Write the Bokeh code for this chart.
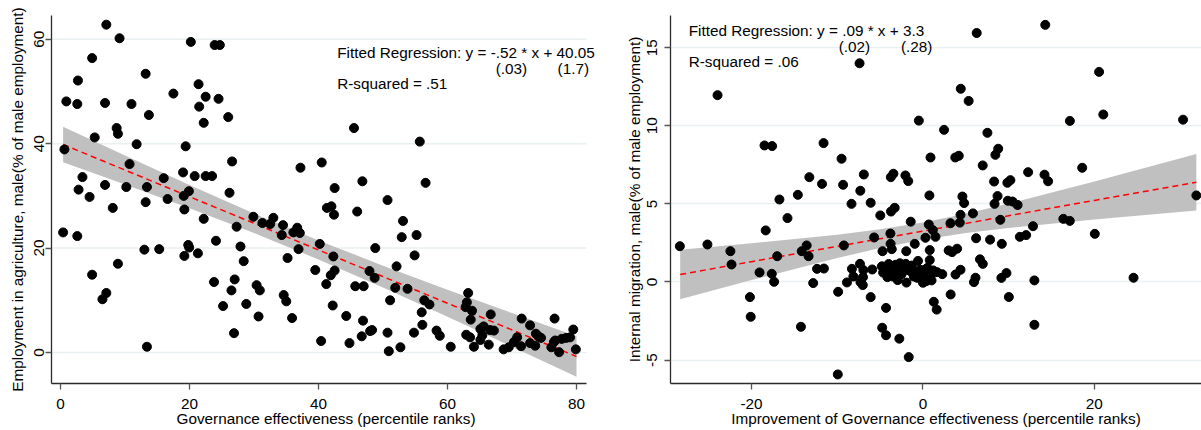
from bokeh.plotting import figure
from bokeh.layouts import row
from bokeh.models import FixedTicker, Label, Range1d
from bokeh.embed import file_html
from bokeh.resources import INLINE

FONT = "Liberation Sans"
FS = "15.3px"

# ---------------- Left panel data ----------------
gov_eff = [0.6, 0.9, 2.7, 2.6, 4.9, 7.1, 9.15, 6.9, 5.3, 8.7, 8.9, 13.2, 11.0, 13.7, 11.8, 10.7,
           3.4, 2.8, 4.5, 6.9, 10.2, 13.4, 16.0, 17.5, 20.2, 21.4, 22.5, 21.5, 22.2, 24.5, 23.9, 24.7,
           26.0, 19.4, 26.6, 19.0, 20.8, 22.5, 23.5, 19.9, 19.1, 26.2, 37.2, 40.5, 42.5, 16.6, 13.2,
           45.5, 55.7, 46.8, 56.6, 50.7, 0.4, 2.6, 8.1, 4.9, 6.5, 7.1, 8.9, 13.0, 15.3, 13.4, 19.2,
           19.8, 19.95, 21.3, 22.2, 24.1, 27.3, 27.9, 28.4, 29.9, 31.3, 32.5, 33.0, 34.5, 34.3, 36.1,
           36.7, 37.1, 36.9, 35.2, 40.2, 41.3, 42.0, 42.4, 42.3, 39.5, 41.2, 41.9, 42.5, 42.2, 40.4,
           23.8, 25.2, 26.5, 27.0, 26.9, 28.8, 30.4, 30.9, 30.7, 34.6, 35.0, 35.9, 19.2, 46.0, 53.1,
           52.9, 55.2, 54.9, 48.8, 47.9, 48.7, 45.7, 47.0, 44.3, 46.9, 46.7, 48.0, 48.3, 44.8, 52.1,
           51.9, 53.8, 51.1, 50.7, 50.9, 52.7, 54.8, 56.1, 56.4, 56.0, 57.2, 58.3, 58.8, 60.5, 63.2,
           63.0, 62.8, 63.8, 63.6, 66.7, 62.9, 63.5, 64.1, 65.1, 65.6, 65.4, 65.1, 66.6, 67.2, 66.4,
           68.7, 69.5, 70.3, 70.8, 71.4, 71.5, 72.8, 72.8, 73.6, 73.7, 74.1, 74.5, 76.6, 76.1, 76.5,
           76.7, 77.3, 77.7, 78.4, 79.0, 79.5, 79.9]
agri_emp = [38.9, 48.1, 52.1, 47.6, 56.4, 62.8, 60.2, 47.8, 41.2, 43.0, 41.9, 53.4, 47.6, 45.5, 39.9, 36.1,
            33.6, 31.2, 29.8, 32.1, 31.7, 31.7, 33.4, 49.6, 59.5, 51.4, 49.0, 47.1, 44.0, 48.6, 58.9, 58.9,
            45.1, 39.5, 36.6, 34.5, 33.8, 33.8, 33.8, 30.9, 30.0, 30.6, 35.4, 36.4, 31.5, 29.4, 28.8,
            43.0, 40.4, 32.8, 32.5, 29.2, 23.0, 22.3, 27.7, 14.9, 10.2, 11.4, 17.0, 19.7, 19.8, 1.1, 18.5,
            20.6, 20.1, 19.0, 25.6, 21.4, 24.1, 20.3, 17.5, 26.0, 24.8, 24.6, 25.8, 24.4, 22.5, 23.0,
            23.9, 22.9, 19.8, 18.1, 20.8, 27.7, 28.0, 26.4, 18.4, 15.8, 13.1, 14.8, 15.7, 9.0, 2.2,
            13.5, 8.9, 11.9, 14.0, 3.7, 9.3, 12.9, 11.9, 6.9, 11.0, 9.8, 6.6, 27.4, 27.0, 25.2,
            22.1, 22.5, 18.6, 20.0, 15.6, 14.3, 12.7, 12.7, 7.0, 6.1, 3.1, 4.1, 4.3, 1.8, 16.5,
            12.4, 12.2, 10.0, 3.8, 0.25, 1.0, 3.8, 5.3, 10.0, 7.7, 9.2, 4.2, 3.2, 1.1, 11.4,
            9.6, 8.7, 8.0, 6.3, 7.3, 3.4, 2.9, 1.1, 4.5, 5.0, 3.3, 2.4, 4.3, 4.2, 1.5,
            0.6, 1.0, 2.0, 2.9, 1.2, 6.5, 5.2, 1.8, 1.3, 3.6, 3.1, 2.8, 6.5, 1.0, 2.0,
            2.3, 0.06, 2.6, 2.8, 2.9, 4.4, 0.6]

left_fit_x = [0.4, 10, 20, 30, 40, 50, 60, 70, 80]
left_fit_y = [39.85, 34.95, 29.85, 24.75, 19.64, 14.54, 9.44, 4.33, -0.77]
left_ci_hi = [43.25, 37.74, 32.09, 26.63, 21.47, 16.64, 12.04, 7.55, 3.13]
left_ci_lo = [36.45, 32.16, 27.61, 22.87, 17.81, 12.44, 6.84, 1.11, -4.67]

left_xticks = [0, 20, 40, 60, 80]
left_yticks = [0, 20, 40, 60]
left_xlim = (-1.40, 81.55)   # extent of the drawn x axis
left_ylim = (-5.94, 64.56)

# ---------------- Right panel data ----------------
gov_improve = [-28.37, -25.15, -23.97, -22.47, -22.34, -20.19, -20.10, -19.07, -18.49, -17.60, -18.35,
               -17.64, -17.37, -17.01, -16.75, -15.81, -14.60, -14.24, -14.15, -13.57, -13.35, -13.26,
               -12.81, -12.36, -11.56, -11.78, -11.60, -9.94, -9.90, -9.50, -9.32, -9.23, -8.87, -8.34,
               -8.29, -8.12, -7.40, -7.31, -7.35, -7.29, -7.02, -7.0, -6.95, -6.90, -6.10, -6.10, -5.92,
               -5.70, -4.98, -4.76, -4.72, -4.8, -4.65, -4.31, -4.31, -4.3, -4.15, -3.99, -3.80, -3.78,
               -3.64, -3.73, -3.3, -3.75, -3.45, -3.7, -3.2, -3.1, -2.95, -2.76, -2.05, -1.72, -1.95,
               -2.0, -1.95, -1.93, -1.66, -1.43, -1.46, -1.07, -1.07, -0.96, -0.58, -0.48, -0.68, -0.29,
               -0.09, 0.29, 0.2, 0.37, 0.0, 0.75, 0.68, 0.79, 0.79, 0.68, 1.15, 1.46, 0.88, 1.19, 1.65,
               0.9, 1.26, 1.6, 2.25, 2.46, 3.0, 3.4, 3.98, 3.21, 3.23, 3.77, 4.18, 4.3, 4.38, 4.6, 4.8,
               3.8, 4.38, 4.41, 5.33, 5.83, 5.95, 6.13, 6.2, 6.27, 6.65, 6.98, 6.97, 7.52, 7.83, 8.3,
               8.35, 8.45, 8.78, 8.7, 9.03, 9.2, 9.15, 9.74, 9.85, 10.2, 9.9, 10.45, 11.04, 10.02, 11.3,
               12.04, 12.27, 12.84, 13.0, 13.0, 14.18, 14.6, 14.27, 16.38, 17.13, 17.14, 18.58, 20.05,
               20.55, 21.04, 24.57, 30.35, 31.9,
               -4.0, -2.5, -2.3, -0.3, 0.5, -1.3, 0.45, 1.0, -3.5, -2.7]
int_migration = [2.29, 2.40, 11.96, 1.97, 1.12, -0.97, -2.23, 0.61, 8.74, 8.70, 3.30,
                 0.52, 0.01, 1.65, 5.28, 4.09, 5.58, -2.87, 1.97, 2.34, 1.65, 6.71,
                 -0.07, 0.84, 0.86, 6.28, 8.89, -5.92, -0.63, 7.89, 6.22, 2.34, -0.03, 5.00,
                 0.84, 0.35, 14.0, 5.84, 1.16, -0.01, -0.2, 0.31, 0.76, 6.88, -0.97, 5.07, 0.80,
                 2.85, 4.26, -2.93, 1.97, 1.0, 0.6, -1.66, -3.41, 0.84, 0.31, 0.69, 3.10, 2.44,
                 2.1, 4.51, 4.75, 6.71, 6.93, 0.95, 1.1, 0.74, 0.12, -3.63, 6.82, 6.46, 1.97,
                 1.16, 0.78, -0.04, -4.81, 3.86, 0.69, 0.69, 0.35, 2.44, 1.35, 10.33, 0.27, 0.78,
                 0.27, 2.83, 0.74, 0.05, -0.05, 5.54, 0.65, 1.40, 2.04, 3.68, 3.32, 2.89, 7.97, 0.74, 0.63,
                 0.42, -1.27, -1.77, 0.50, 9.74, 2.02, 1.91, 2.13, 3.76, -0.80, 7.97, 8.08, 3.80, 4.30, 5.47, 5.05,
                 0.48, 0.78, 12.37, 11.59, 4.39, -0.01, 0.27, 2.80, 15.94, 1.45, 1.16, 7.46, 9.55, 2.71, 6.43,
                 5.0, 8.14, 8.53, 5.5, 3.98, 2.44, 0.26, 0.57, 6.35, 6.52, 5.2, 5.15, 4.93, -0.96, 2.89,
                 3.0, 7.03, 3.57, -2.74, 0.10, 6.87, 6.45, 16.46, 4.04, 3.91, 10.31, 7.31, 3.08,
                 13.45, 10.72, 0.27, 10.39, 5.54,
                 1.15, 0.5, 0.9, 0.5, 0.9, 1.05, 0.2, 0.1, 0.35, 1.2]

right_fit_x = [-28.33, -20, -10, -5, 0, 5, 10, 20, 31.9]
right_fit_y = [0.48, 1.30, 2.28, 2.77, 3.26, 3.75, 4.24, 5.22, 6.39]
right_ci_hi = [2.07, 2.48, 3.03, 3.37, 3.81, 4.37, 5.02, 6.44, 8.20]
right_ci_lo = [-1.11, 0.12, 1.53, 2.17, 2.71, 3.13, 3.46, 4.00, 4.58]

right_xticks = [-20, 0, 20]
right_yticks = [-5, 0, 5, 10, 15]
right_xlim = (-29.46, 32.5)
right_ylim = (-6.5, 17.06)

GRID = "#e9f0f1"


def fmt(t):
    return "-" + str(abs(t)) if t < 0 else str(t)


def style(p, xticks, yticks, xlabel, ylabel, tick_standoff_y, label_standoff_y):
    p.outline_line_color = None
    p.background_fill_color = "white"
    p.xgrid.visible = False
    p.ygrid.grid_line_color = GRID
    p.ygrid.grid_line_width = 1.5
    p.xaxis.ticker = FixedTicker(ticks=xticks)
    p.yaxis.ticker = FixedTicker(ticks=yticks)
    p.xaxis.major_label_overrides = {t: fmt(t) for t in xticks}
    p.yaxis.major_label_overrides = {t: fmt(t) for t in yticks}
    for ax in (p.xaxis[0], p.yaxis[0]):
        ax.axis_line_color = "#2b2b2b"
        ax.axis_line_width = 1.3
        ax.major_tick_line_color = "#555555"
        ax.major_tick_line_width = 1.3
        ax.major_tick_out = 6
        ax.major_tick_in = 0
        ax.minor_tick_line_color = None
        ax.major_label_text_font = FONT
        ax.major_label_text_font_size = FS
        ax.major_label_text_color = "black"
        ax.axis_label_text_font = FONT
        ax.axis_label_text_font_size = FS
        ax.axis_label_text_font_style = "normal"
        ax.axis_label_text_color = "black"
    p.xaxis.axis_label = xlabel
    p.yaxis.axis_label = ylabel
    p.yaxis.major_label_orientation = "vertical"
    p.xaxis.major_label_standoff = 9
    p.xaxis.axis_label_standoff = -2
    p.yaxis.major_label_standoff = tick_standoff_y
    p.yaxis.axis_label_standoff = label_standoff_y


txt = dict(text_font=FONT, text_font_size=FS, text_color="black", text_baseline="middle")

# ---------------- Left figure ----------------
# the frame runs to the right edge so the annotation is not clipped; the axis stops at left_xlim
p1 = figure(width=600, height=430, output_backend="svg", toolbar_location=None,
            x_range=Range1d(left_xlim[0], 83.72), y_range=Range1d(*left_ylim),
            min_border_left=51, min_border_right=0, min_border_top=15, min_border_bottom=47)
style(p1, left_xticks, left_yticks, "Governance effectiveness (percentile ranks)",
      "Employment in agriculture, male(% of male employment)", 1, 6)
p1.xaxis.bounds = left_xlim
p1.ygrid.visible = False
p1.segment(x0=[left_xlim[0]] * len(left_yticks), x1=[left_xlim[1]] * len(left_yticks),
           y0=left_yticks, y1=left_yticks, line_color=GRID, line_width=1.5)
p1.varea(x=left_fit_x, y1=left_ci_lo, y2=left_ci_hi, fill_color="#c0c0c0", fill_alpha=1.0)
p1.line(left_fit_x, left_fit_y, line_color="#ff0000", line_width=1.5, line_dash="6 4")
p1.scatter(gov_eff, agri_emp, size=9, fill_color="black", line_color="black")

p1.add_layout(Label(x=42.9, y=57.5, text="Fitted Regression: y = -.52 * x + 40.05", text_align="left", **txt))
p1.add_layout(Label(x=69.9, y=54.4, text="(.03)", text_align="center", **txt))
p1.add_layout(Label(x=79.5, y=54.4, text="(1.7)", text_align="center", **txt))
p1.add_layout(Label(x=42.9, y=51.6, text="R-squared = .51", text_align="left", **txt))

# ---------------- Right figure ----------------
p2 = figure(width=601, height=430, output_backend="svg", toolbar_location=None,
            x_range=Range1d(*right_xlim), y_range=Range1d(*right_ylim),
            min_border_left=70, min_border_right=0, min_border_top=15, min_border_bottom=47)
style(p2, right_xticks, right_yticks, "Improvement of Governance effectiveness (percentile ranks)",
      "Internal migration, male(% of male employment)", 7, 2)
p2.varea(x=right_fit_x, y1=right_ci_lo, y2=right_ci_hi, fill_color="#c0c0c0", fill_alpha=1.0)
p2.line(right_fit_x, right_fit_y, line_color="#ff0000", line_width=1.5, line_dash="6 4")
p2.scatter(gov_improve, int_migration, size=9, fill_color="black", line_color="black")

p2.add_layout(Label(x=-27.34, y=16.1, text="Fitted Regression: y = .09 * x + 3.3", text_align="left", **txt))
p2.add_layout(Label(x=-8.0, y=15.1, text="(.02)", text_align="center", **txt))
p2.add_layout(Label(x=-0.74, y=15.1, text="(.28)", text_align="center", **txt))
p2.add_layout(Label(x=-27.34, y=14.12, text="R-squared = .06", text_align="left", **txt))

layout = row(p1, p2, spacing=0)
open("out.html", "w").write(file_html(layout, INLINE))
